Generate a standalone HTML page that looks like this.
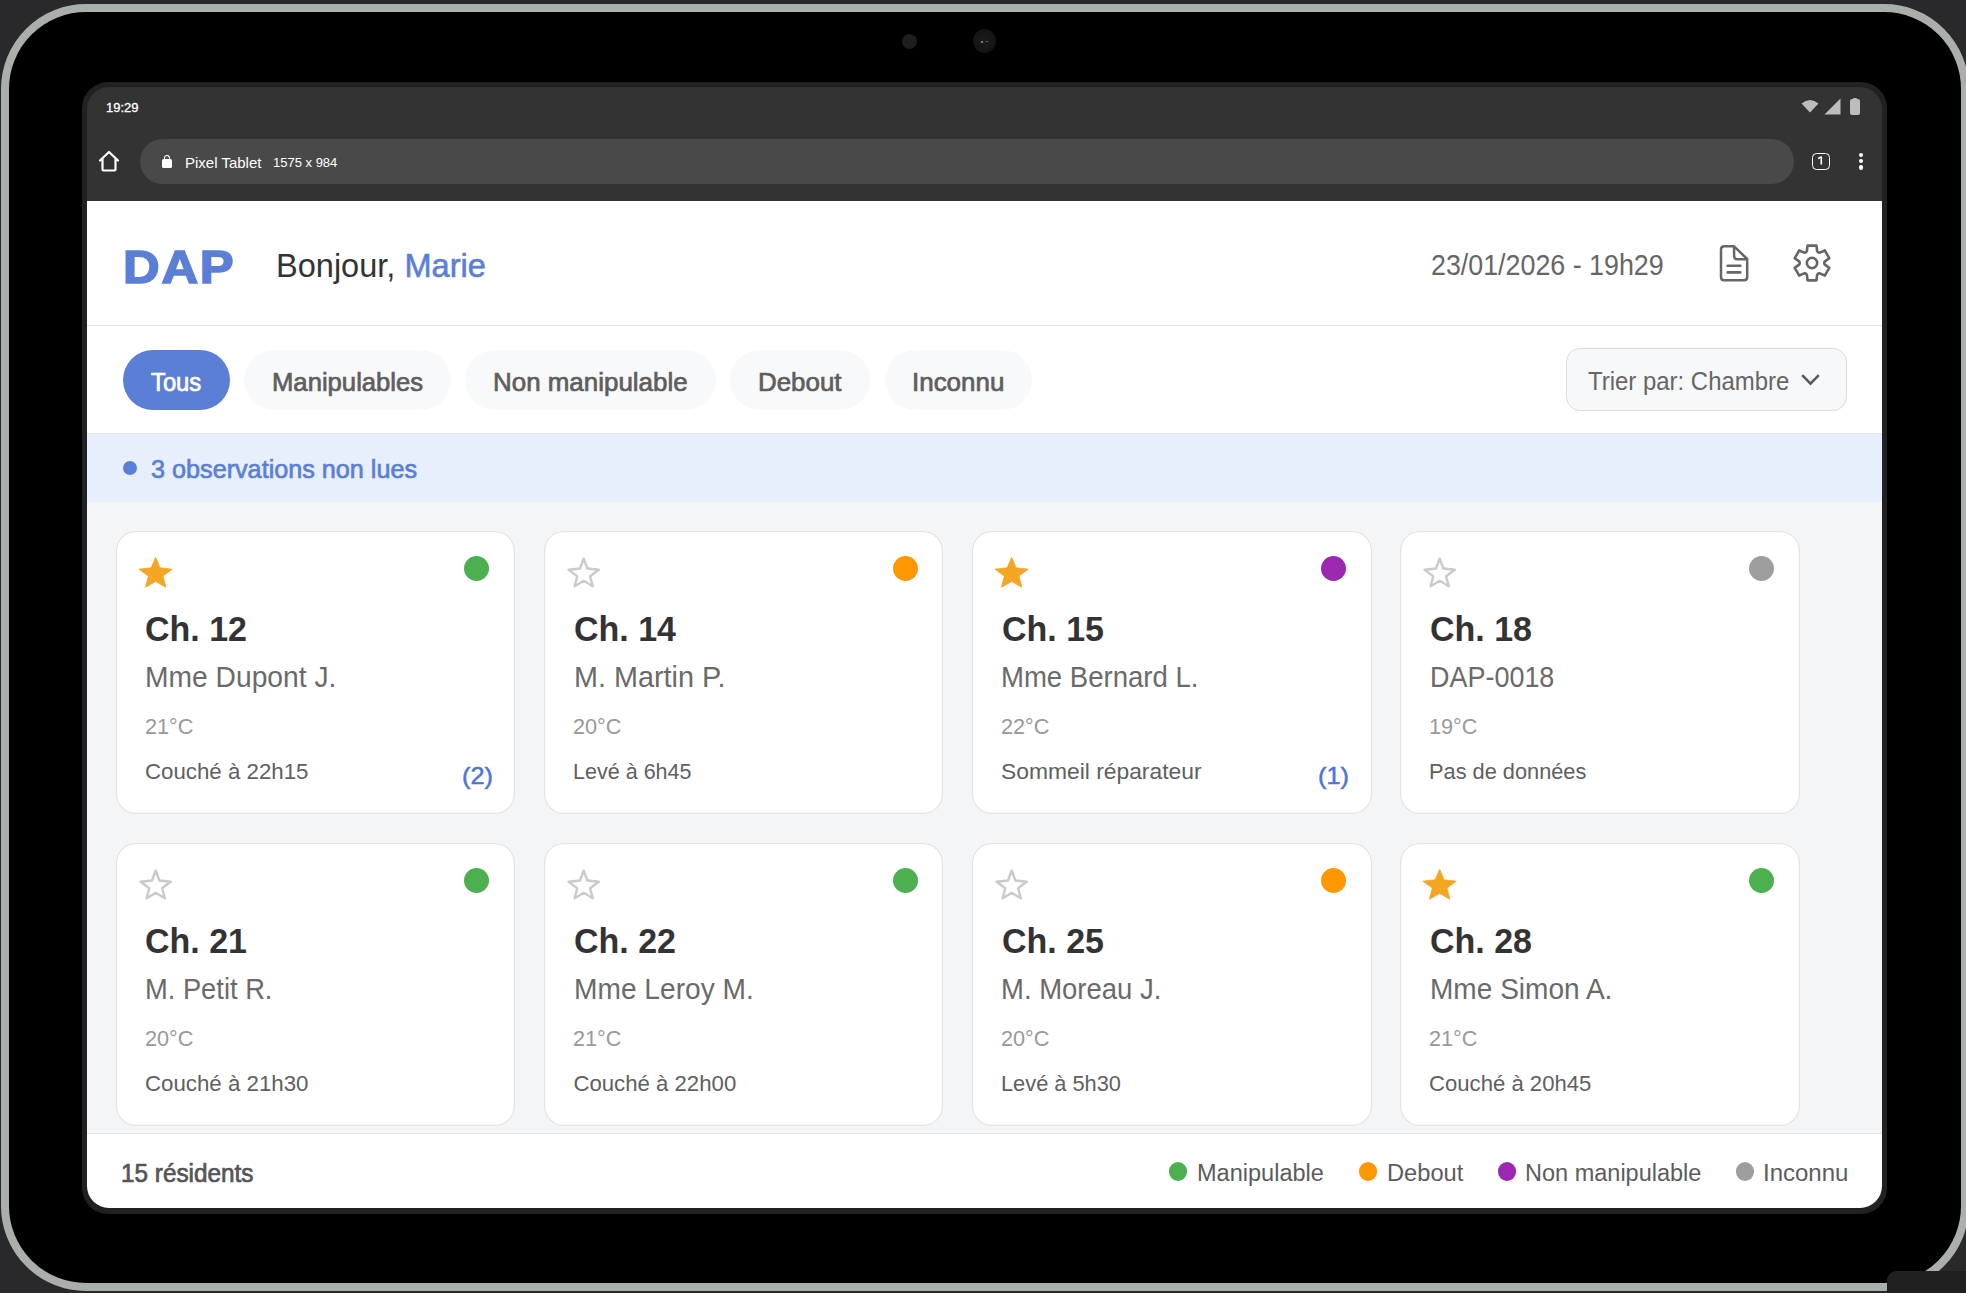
<!DOCTYPE html>
<html lang="fr">
<head>
<meta charset="utf-8">
<style>
*{box-sizing:border-box;margin:0;padding:0}
html,body{width:1966px;height:1293px;overflow:hidden;background:#29292b;font-family:"Liberation Sans",sans-serif}
.abs{position:absolute}
#tablet{position:absolute;left:1.3px;top:3.8px;width:1967.4px;height:1287.5px;border:8.6px solid #abafac;border-radius:85px;background:#000}
#cam1{left:902px;top:34px;width:15px;height:15px;border-radius:50%;background:#1e1e1e}
#cam2{left:973px;top:29px;width:23px;height:24px;border-radius:50%;background:radial-gradient(circle at 50% 50%,#1c1c1c 0,#151515 60%,#0a0a0a 100%)}
#screen{position:absolute;left:81.5px;top:82px;width:1805.5px;height:1132.3px;border-radius:26px;background:#212121}
#inner{position:absolute;left:87px;top:87px;width:1795px;height:1121px;border-radius:22px;overflow:hidden;background:transparent}
#statusbar{position:absolute;left:0;top:0;width:1795px;height:114px;background:#333}
#web{position:absolute;left:0;top:114px;width:1795px;height:1007px;background:#fff}
.t{position:absolute;white-space:nowrap;line-height:1;transform-origin:0 0}
#pill{position:absolute;left:53px;top:52px;width:1654px;height:45px;border-radius:23px;background:#494949}
.card{position:absolute;width:399.6px;height:283.5px;box-shadow:inset 0 0 0 1.14px #e3e3e3;border-radius:20px;background:#fff}
</style>
</head>
<body>
<div id="tablet"></div>
<div class="abs" id="cam1"></div>
<div class="abs" id="cam2"></div>
<div class="abs" style="left:981.2px;top:40.6px;width:2px;height:2px;border-radius:50%;background:#9a9a9a"></div>
<div class="abs" style="left:986px;top:40.8px;width:2px;height:1.6px;border-radius:50%;background:#6a6a6a"></div>
<div id="screen"></div>
<div id="inner">
<div id="statusbar">
    <div class="t" style="left:19px;top:14px;font-size:13px;color:#fff;-webkit-text-stroke:0.3px #fff">19:29</div>
    <svg class="abs" style="left:1714px;top:12px" width="18" height="14" viewBox="0 0 18 14"><path d="M0.5 4.5 Q9 -2.5 17.5 4.5 L9 13.5 Z" fill="#bdbdbd"/></svg>
    <svg class="abs" style="left:1737px;top:11px" width="17" height="17" viewBox="0 0 17 17"><path d="M0.5 16.5 L16.5 0.5 L16.5 16.5 Z" fill="#bdbdbd"/></svg>
    <div class="abs" style="left:1763px;top:12px;width:10px;height:16px;border-radius:2px;background:#bdbdbd"></div>
    <div class="abs" style="left:1766px;top:10.5px;width:4px;height:3px;border-radius:1px;background:#bdbdbd"></div>
    <svg class="abs" style="left:11px;top:63px" width="22" height="22" viewBox="0 0 22 22"><path d="M2 10.5 L11 2 L20 10.5 M4.5 8.5 V19.5 Q4.5 20.5 5.5 20.5 H16.5 Q17.5 20.5 17.5 19.5 V8.5" fill="none" stroke="#fff" stroke-width="2.2" stroke-linejoin="round" stroke-linecap="round"/></svg>
    <div id="pill"></div>
    <div class="abs" style="left:75px;top:72px;width:10px;height:9px;border-radius:1.5px;background:#fff"></div>
    <div class="abs" style="left:77px;top:68px;width:6px;height:7px;border:1.6px solid #fff;border-bottom:none;border-radius:3px 3px 0 0"></div>
    <div class="t" style="left:98px;top:68px;font-size:15px;color:#fff">Pixel Tablet</div>
    <div class="t" style="left:186px;top:69px;font-size:13px;color:#fff">1575 x 984</div>
    <div class="abs" style="left:1725.4px;top:65.9px;width:17.2px;height:17.2px;border:1.8px solid #fff;border-radius:4.5px"></div>
    <svg class="abs" style="left:1725px;top:65px" width="18" height="18" viewBox="0 0 18 18"><path d="M9.3 4.6 V12.5 M6.2 6.6 L9.3 4.6" fill="none" stroke="#fff" stroke-width="1.6" stroke-linecap="butt"/></svg>
    <div class="abs" style="left:1771.5px;top:66px;width:4.2px;height:4.2px;border-radius:50%;background:#fff"></div>
    <div class="abs" style="left:1771.5px;top:72.2px;width:4.2px;height:4.2px;border-radius:50%;background:#fff"></div>
    <div class="abs" style="left:1771.5px;top:78.4px;width:4.2px;height:4.2px;border-radius:50%;background:#fff"></div>
</div>
<div id="web">
<div class="t" style="left:35.70px;top:42.44px;font-size:47px;color:#5b7fd6;font-weight:bold;transform:scaleX(1.08);letter-spacing:1.6px;-webkit-text-stroke:1.6px #5b7fd6;">DAP</div>
<div class="t" style="left:189.00px;top:48.06px;font-size:33px;color:#333;transform:scaleX(0.986);">Bonjour, <span style="color:#5b7fd6;-webkit-text-stroke:0.6px #5b7fd6">Marie</span></div>
<div class="t" style="left:1344.00px;top:49.80px;font-size:28.6px;color:#666;transform:scaleX(0.938);">23/01/2026 - 19h29</div>
<svg class="abs" style="left:1628px;top:39px" width="40" height="46" viewBox="0 0 40 46"><path d="M19.1 6.3 H9.3 Q6 6.3 6 9.6 V37 Q6 40.3 9.3 40.3 H28.9 Q32.2 40.3 32.2 37 V19 Z" fill="none" stroke="#666" stroke-width="2.5" stroke-linejoin="round"/><path d="M19.1 6.3 V16 Q19.1 19.2 22.3 19.2 H32.2" fill="none" stroke="#666" stroke-width="2.5" stroke-linejoin="round"/><path d="M12.6 25.8 H25.3 M12.6 32.4 H25.3" stroke="#666" stroke-width="2.6" stroke-linecap="round"/></svg>
<svg class="abs" style="left:1699.65px;top:37px" width="50" height="50" viewBox="-25 -25 50 50"><path d="M-5.08 -11.97 L-4.48 -17.33 L4.48 -17.33 L5.08 -11.97 Q5.80 -10.05 7.82 -10.38 L12.77 -12.55 L17.25 -4.78 L12.90 -1.58 Q11.60 0.00 12.90 1.58 L17.25 4.78 L12.77 12.55 L7.82 10.38 Q5.80 10.05 5.08 11.97 L4.48 17.33 L-4.48 17.33 L-5.08 11.97 Q-5.80 10.05 -7.82 10.38 L-12.77 12.55 L-17.25 4.78 L-12.90 1.58 Q-11.60 0.00 -12.90 -1.58 L-17.25 -4.78 L-12.77 -12.55 L-7.82 -10.38 Q-5.80 -10.05 -5.08 -11.97 Z" fill="none" stroke="#666" stroke-width="2.6" stroke-linejoin="round"/><circle cx="0" cy="0" r="5.2" fill="none" stroke="#666" stroke-width="2.6"/></svg>
<div class="abs" style="left:0;top:124px;width:1795px;height:1px;background:#e5e5e5"></div>
<div class="abs" style="left:35.5px;top:148.5px;width:107.5px;height:60.5px;border-radius:31px;background:#5b7fd6"></div>
<div class="t" style="left:64.03px;top:168.60px;font-size:25.3px;color:#fff;transform:scaleX(0.94);-webkit-text-stroke:0.7px #fff;">Tous</div>
<div class="abs" style="left:157px;top:148.5px;width:207px;height:60.5px;border-radius:31px;background:#f8f9fa"></div>
<div class="t" style="left:184.83px;top:168.60px;font-size:25.3px;color:#5e5e5e;transform:scaleX(1.014);-webkit-text-stroke:0.7px #5e5e5e;">Manipulables</div>
<div class="abs" style="left:378.3px;top:148.5px;width:250.7px;height:60.5px;border-radius:31px;background:#f8f9fa"></div>
<div class="t" style="left:406.11px;top:168.60px;font-size:25.3px;color:#5e5e5e;transform:scaleX(1.025);-webkit-text-stroke:0.7px #5e5e5e;">Non manipulable</div>
<div class="abs" style="left:643px;top:148.5px;width:140px;height:60.5px;border-radius:31px;background:#f8f9fa"></div>
<div class="t" style="left:670.71px;top:168.60px;font-size:25.3px;color:#5e5e5e;transform:scaleX(1.024);-webkit-text-stroke:0.7px #5e5e5e;">Debout</div>
<div class="abs" style="left:797.8px;top:148.5px;width:147.5px;height:60.5px;border-radius:31px;background:#f8f9fa"></div>
<div class="t" style="left:825.01px;top:168.60px;font-size:25.3px;color:#5e5e5e;transform:scaleX(1.026);-webkit-text-stroke:0.7px #5e5e5e;">Inconnu</div>
<div class="abs" style="left:1479px;top:147.3px;width:280.8px;height:62.7px;border-radius:14px;background:#f7f8fa;border:1.5px solid #dcdcdc"></div>
<div class="t" style="left:1501.00px;top:166.50px;font-size:26.6px;color:#666;transform:scaleX(0.9);">Trier par: Chambre</div>
<svg class="abs" style="left:1712px;top:170px" width="23" height="17" viewBox="0 0 23 17"><path d="M3.2 4.2 L11.5 12.6 L19.8 4.2" fill="none" stroke="#5a5a5a" stroke-width="2.6" stroke-linecap="butt" stroke-linejoin="miter"/></svg>
<div class="abs" style="left:0;top:232px;width:1795px;height:1px;background:#e5e5e5"></div>
<div class="abs" style="left:0;top:233px;width:1795px;height:68px;background:#e8effc"></div>
<div class="abs" style="left:35.5px;top:260.3px;width:14px;height:14px;border-radius:50%;background:#5b7fd6"></div>
<div class="t" style="left:63.90px;top:256.07px;font-size:25.9px;color:#5b7fd6;transform:scaleX(0.973);-webkit-text-stroke:0.7px #5b7fd6;">3 observations non lues</div>
<div class="abs" style="left:0;top:301px;width:1795px;height:631px;background:#f4f5f7"></div>
<div class="card" style="left:28.73px;top:329.83px"></div>
<svg class="abs" style="left:51.90px;top:356.10px" width="34" height="32" viewBox="0 0 34 32"><path d="M16.7 0.2 L21 10.8 L33.2 12.2 L24 19 L26.9 30.3 L16.7 24.4 L6.4 30.3 L9.4 19 L0 12.2 L12.15 10.8 Z" fill="#f4a623" stroke="#f4a623" stroke-width="0.8" stroke-linejoin="round"/></svg>
<div class="abs" style="left:377.40px;top:355.40px;width:25px;height:25px;border-radius:50%;background:#4caf50"></div>
<div class="t" style="left:58.30px;top:410.00px;font-size:35.2px;color:#333;font-weight:bold;transform:scaleX(0.966);">Ch. 12</div>
<div class="t" style="left:57.70px;top:462.10px;font-size:28.9px;color:#6a6a6a;transform:scaleX(0.977);">Mme Dupont J.</div>
<div class="t" style="left:57.50px;top:513.80px;font-size:22.7px;color:#999;transform:scaleX(0.955);">21°C</div>
<div class="t" style="left:57.50px;top:559.80px;font-size:22.2px;color:#606060;transform:scaleX(1.0035135135135136);">Couché à 22h15</div>
<div class="t" style="left:375.10px;top:562.90px;font-size:24.3px;color:#4d74d4;transform:scaleX(1.04);-webkit-text-stroke:0.5px #4d74d4;">(2)</div>
<div class="card" style="left:456.83px;top:329.83px"></div>
<svg class="abs" style="left:480.00px;top:356.10px" width="34" height="32" viewBox="0 0 34 32"><path d="M16.7 1.5 L20.4 11.5 L31.7 12.8 L23.1 19.3 L25.8 29.3 L16.7 23.8 L7.6 29.3 L10.3 19.3 L1.6 12.8 L13 11.5 Z" fill="none" stroke="#cacaca" stroke-width="2.4" stroke-linejoin="round"/></svg>
<div class="abs" style="left:805.50px;top:355.40px;width:25px;height:25px;border-radius:50%;background:#ff9800"></div>
<div class="t" style="left:487.20px;top:410.00px;font-size:35.2px;color:#333;font-weight:bold;transform:scaleX(0.966);">Ch. 14</div>
<div class="t" style="left:486.60px;top:462.10px;font-size:28.9px;color:#6a6a6a;transform:scaleX(0.997);">M. Martin P.</div>
<div class="t" style="left:486.40px;top:513.80px;font-size:22.7px;color:#999;transform:scaleX(0.955);">20°C</div>
<div class="t" style="left:486.40px;top:559.80px;font-size:22.2px;color:#606060;transform:scaleX(0.9704189189189188);">Levé à 6h45</div>
<div class="card" style="left:884.93px;top:329.83px"></div>
<svg class="abs" style="left:908.10px;top:356.10px" width="34" height="32" viewBox="0 0 34 32"><path d="M16.7 0.2 L21 10.8 L33.2 12.2 L24 19 L26.9 30.3 L16.7 24.4 L6.4 30.3 L9.4 19 L0 12.2 L12.15 10.8 Z" fill="#f4a623" stroke="#f4a623" stroke-width="0.8" stroke-linejoin="round"/></svg>
<div class="abs" style="left:1233.60px;top:355.40px;width:25px;height:25px;border-radius:50%;background:#9c27b0"></div>
<div class="t" style="left:915.00px;top:410.00px;font-size:35.2px;color:#333;font-weight:bold;transform:scaleX(0.966);">Ch. 15</div>
<div class="t" style="left:914.40px;top:462.10px;font-size:28.9px;color:#6a6a6a;transform:scaleX(0.953);">Mme Bernard L.</div>
<div class="t" style="left:914.20px;top:513.80px;font-size:22.7px;color:#999;transform:scaleX(0.955);">22°C</div>
<div class="t" style="left:914.20px;top:559.80px;font-size:22.2px;color:#606060;transform:scaleX(1.029135135135135);">Sommeil réparateur</div>
<div class="t" style="left:1231.30px;top:562.90px;font-size:24.3px;color:#4d74d4;transform:scaleX(1.04);-webkit-text-stroke:0.5px #4d74d4;">(1)</div>
<div class="card" style="left:1313.03px;top:329.83px"></div>
<svg class="abs" style="left:1336.20px;top:356.10px" width="34" height="32" viewBox="0 0 34 32"><path d="M16.7 1.5 L20.4 11.5 L31.7 12.8 L23.1 19.3 L25.8 29.3 L16.7 23.8 L7.6 29.3 L10.3 19.3 L1.6 12.8 L13 11.5 Z" fill="none" stroke="#cacaca" stroke-width="2.4" stroke-linejoin="round"/></svg>
<div class="abs" style="left:1661.70px;top:355.40px;width:25px;height:25px;border-radius:50%;background:#9e9e9e"></div>
<div class="t" style="left:1343.15px;top:410.00px;font-size:35.2px;color:#333;font-weight:bold;transform:scaleX(0.966);">Ch. 18</div>
<div class="t" style="left:1342.55px;top:462.10px;font-size:28.9px;color:#6a6a6a;transform:scaleX(0.933);">DAP-0018</div>
<div class="t" style="left:1342.35px;top:513.80px;font-size:22.7px;color:#999;transform:scaleX(0.955);">19°C</div>
<div class="t" style="left:1342.35px;top:559.80px;font-size:22.2px;color:#606060;transform:scaleX(0.9810945945945947);">Pas de données</div>
<div class="card" style="left:28.73px;top:641.63px"></div>
<svg class="abs" style="left:51.90px;top:667.90px" width="34" height="32" viewBox="0 0 34 32"><path d="M16.7 1.5 L20.4 11.5 L31.7 12.8 L23.1 19.3 L25.8 29.3 L16.7 23.8 L7.6 29.3 L10.3 19.3 L1.6 12.8 L13 11.5 Z" fill="none" stroke="#cacaca" stroke-width="2.4" stroke-linejoin="round"/></svg>
<div class="abs" style="left:377.40px;top:667.20px;width:25px;height:25px;border-radius:50%;background:#4caf50"></div>
<div class="t" style="left:58.30px;top:721.80px;font-size:35.2px;color:#333;font-weight:bold;transform:scaleX(0.966);">Ch. 21</div>
<div class="t" style="left:57.70px;top:773.90px;font-size:28.9px;color:#6a6a6a;transform:scaleX(0.945);">M. Petit R.</div>
<div class="t" style="left:57.50px;top:825.60px;font-size:22.7px;color:#999;transform:scaleX(0.955);">20°C</div>
<div class="t" style="left:57.50px;top:871.60px;font-size:22.2px;color:#606060;transform:scaleX(1.0035135135135136);">Couché à 21h30</div>
<div class="card" style="left:456.83px;top:641.63px"></div>
<svg class="abs" style="left:480.00px;top:667.90px" width="34" height="32" viewBox="0 0 34 32"><path d="M16.7 1.5 L20.4 11.5 L31.7 12.8 L23.1 19.3 L25.8 29.3 L16.7 23.8 L7.6 29.3 L10.3 19.3 L1.6 12.8 L13 11.5 Z" fill="none" stroke="#cacaca" stroke-width="2.4" stroke-linejoin="round"/></svg>
<div class="abs" style="left:805.50px;top:667.20px;width:25px;height:25px;border-radius:50%;background:#4caf50"></div>
<div class="t" style="left:487.20px;top:721.80px;font-size:35.2px;color:#333;font-weight:bold;transform:scaleX(0.966);">Ch. 22</div>
<div class="t" style="left:486.60px;top:773.90px;font-size:28.9px;color:#6a6a6a;transform:scaleX(0.974);">Mme Leroy M.</div>
<div class="t" style="left:486.40px;top:825.60px;font-size:22.7px;color:#999;transform:scaleX(0.955);">21°C</div>
<div class="t" style="left:486.40px;top:871.60px;font-size:22.2px;color:#606060;">Couché à 22h00</div>
<div class="card" style="left:884.93px;top:641.63px"></div>
<svg class="abs" style="left:908.10px;top:667.90px" width="34" height="32" viewBox="0 0 34 32"><path d="M16.7 1.5 L20.4 11.5 L31.7 12.8 L23.1 19.3 L25.8 29.3 L16.7 23.8 L7.6 29.3 L10.3 19.3 L1.6 12.8 L13 11.5 Z" fill="none" stroke="#cacaca" stroke-width="2.4" stroke-linejoin="round"/></svg>
<div class="abs" style="left:1233.60px;top:667.20px;width:25px;height:25px;border-radius:50%;background:#ff9800"></div>
<div class="t" style="left:915.00px;top:721.80px;font-size:35.2px;color:#333;font-weight:bold;transform:scaleX(0.966);">Ch. 25</div>
<div class="t" style="left:914.40px;top:773.90px;font-size:28.9px;color:#6a6a6a;transform:scaleX(0.951);">M. Moreau J.</div>
<div class="t" style="left:914.20px;top:825.60px;font-size:22.7px;color:#999;transform:scaleX(0.955);">20°C</div>
<div class="t" style="left:914.20px;top:871.60px;font-size:22.2px;color:#606060;transform:scaleX(0.9821621621621622);">Levé à 5h30</div>
<div class="card" style="left:1313.03px;top:641.63px"></div>
<svg class="abs" style="left:1336.20px;top:667.90px" width="34" height="32" viewBox="0 0 34 32"><path d="M16.7 0.2 L21 10.8 L33.2 12.2 L24 19 L26.9 30.3 L16.7 24.4 L6.4 30.3 L9.4 19 L0 12.2 L12.15 10.8 Z" fill="#f4a623" stroke="#f4a623" stroke-width="0.8" stroke-linejoin="round"/></svg>
<div class="abs" style="left:1661.70px;top:667.20px;width:25px;height:25px;border-radius:50%;background:#4caf50"></div>
<div class="t" style="left:1343.15px;top:721.80px;font-size:35.2px;color:#333;font-weight:bold;transform:scaleX(0.966);">Ch. 28</div>
<div class="t" style="left:1342.55px;top:773.90px;font-size:28.9px;color:#6a6a6a;transform:scaleX(0.971);">Mme Simon A.</div>
<div class="t" style="left:1342.35px;top:825.60px;font-size:22.7px;color:#999;transform:scaleX(0.955);">21°C</div>
<div class="t" style="left:1342.35px;top:871.60px;font-size:22.2px;color:#606060;transform:scaleX(0.9971081081081081);">Couché à 20h45</div>
<div class="abs" style="left:0;top:932px;width:1795px;height:1px;background:#e5e5e5"></div>
<div class="t" style="left:34.20px;top:959.60px;font-size:25px;color:#555;transform:scaleX(0.973);-webkit-text-stroke:0.7px #555;">15 résidents</div>
<div class="abs" style="left:1082px;top:961.2px;width:18.4px;height:18.4px;border-radius:50%;background:#4caf50"></div>
<div class="t" style="left:1110.00px;top:961.40px;font-size:23.3px;color:#5c5c5c;transform:scaleX(1.01);">Manipulable</div>
<div class="abs" style="left:1271.9px;top:961.2px;width:18.4px;height:18.4px;border-radius:50%;background:#ff9800"></div>
<div class="t" style="left:1299.70px;top:961.40px;font-size:23.3px;color:#5c5c5c;transform:scaleX(1.015);">Debout</div>
<div class="abs" style="left:1410.8px;top:961.2px;width:18.4px;height:18.4px;border-radius:50%;background:#9c27b0"></div>
<div class="t" style="left:1438.00px;top:961.40px;font-size:23.3px;color:#5c5c5c;transform:scaleX(1.009);">Non manipulable</div>
<div class="abs" style="left:1649px;top:961.2px;width:18.4px;height:18.4px;border-radius:50%;background:#9e9e9e"></div>
<div class="t" style="left:1676.00px;top:961.40px;font-size:23.3px;color:#5c5c5c;transform:scaleX(1.03);">Inconnu</div>
</div>
</div>
<div class="abs" style="left:1887px;top:1271px;width:100px;height:40px;border-radius:9px;background:#202020"></div>
</body>
</html>
